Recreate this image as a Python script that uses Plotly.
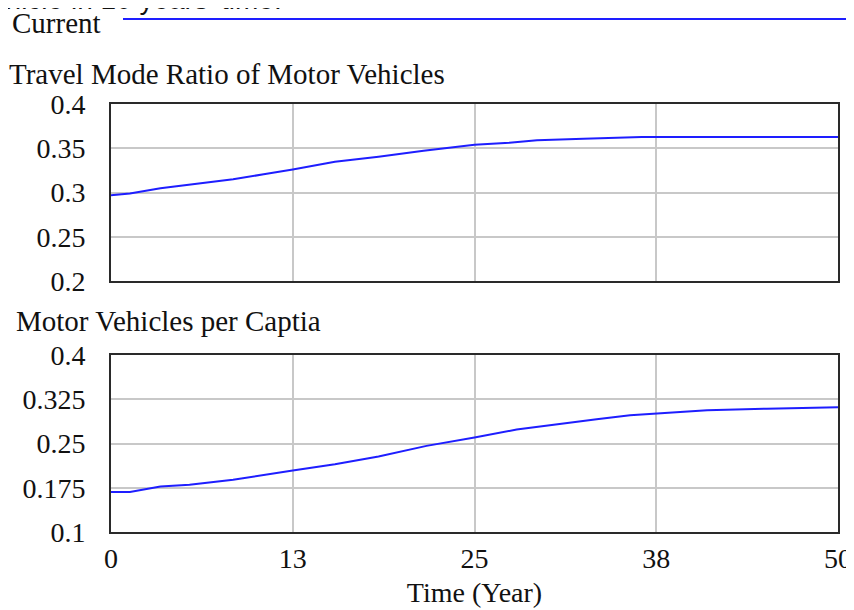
import plotly.graph_objects as go

# ---- data ----
time_mode = [0, 1.3, 3.4, 5.4, 8.4, 10.5, 12.5, 15.4, 18.4, 21.5, 25, 27.4, 29.3, 32.5, 36.5, 40, 45, 50]
mode_ratio = [0.297, 0.299, 0.3047, 0.3085, 0.3149, 0.3206, 0.326, 0.3348, 0.3405, 0.3473, 0.354,
              0.3563, 0.359, 0.3608, 0.3627, 0.3627, 0.3627, 0.3627]

time_cap = [0, 1.3, 3.4, 5.4, 8.4, 10.5, 12.5, 15.4, 18.4, 21.7, 25, 27.9, 30.4, 33.4, 35.7, 37.5, 41, 45.1, 48.5, 50]
per_capita = [0.168, 0.168, 0.177, 0.180, 0.1886, 0.197, 0.2043, 0.215, 0.228, 0.246, 0.260, 0.2737,
              0.282, 0.291, 0.298, 0.301, 0.3065, 0.309, 0.3115, 0.3115]

x_tickvals = [0, 12.5, 25, 37.5, 50]
x_ticktext = ["0", "13", "25", "38", "50"]
y1_tickvals = [0.2, 0.25, 0.3, 0.35, 0.4]
y1_ticktext = ["0.2", "0.25", "0.3", "0.35", "0.4"]
y2_tickvals = [0.1, 0.175, 0.25, 0.325, 0.4]
y2_ticktext = ["0.1", "0.175", "0.25", "0.325", "0.4"]

title1 = "Travel Mode Ratio of Motor Vehicles"
title2 = "Motor Vehicles per Captia"
x_title = "Time (Year)"
series_name = "Current"
clipped_text = "vehicle in 10 years' time."

# ---- figure (page body has an 8px margin, so the figure is sized to fit the window) ----
OFF = 8
W, H = 854 - OFF, 610 - OFF
SERIF = "Liberation Serif, Times New Roman, serif"
LINE = "#1e1eff"
GRID = "#c8c8c8"
FRAME = "#2a2a2a"
TXT = "#111"


def py(p):  # window pixel (from top) -> paper y
    return 1 - (p - OFF) / H


def px(p):  # window pixel (from left) -> paper x
    return (p - OFF) / W


fig = go.Figure()
fig.add_trace(go.Scatter(x=time_mode, y=mode_ratio, mode="lines", name=series_name,
                         line=dict(color=LINE, width=2), xaxis="x", yaxis="y", showlegend=False))
fig.add_trace(go.Scatter(x=time_cap, y=per_capita, mode="lines", name=series_name,
                         line=dict(color=LINE, width=2), xaxis="x2", yaxis="y2", showlegend=False))

xdom = [px(111), px(838)]
common_x = dict(range=[0, 50], tickvals=x_tickvals, ticktext=x_ticktext, showgrid=True,
                gridcolor=GRID, gridwidth=2, showline=True, mirror=True, linecolor=FRAME,
                linewidth=2, zeroline=False, domain=xdom, automargin=False, ticks="",
                tickfont=dict(family=SERIF, size=28, color=TXT))
common_y = dict(showgrid=True, gridcolor=GRID, gridwidth=2, showline=True, mirror=True,
                linecolor=FRAME, linewidth=2, zeroline=False, ticks="outside", ticklen=18,
                automargin=False, tickcolor="rgba(0,0,0,0)",
                tickfont=dict(family=SERIF, size=28, color=TXT))

fig.update_layout(
    width=W, height=H,
    margin=dict(l=0, r=0, t=0, b=0, autoexpand=False),
    paper_bgcolor="white", plot_bgcolor="white",
    xaxis=dict(common_x, anchor="y", showticklabels=False),
    xaxis2=dict(common_x, anchor="y2",
                title=dict(text=x_title, font=dict(family=SERIF, size=28, color=TXT), standoff=10)),
    yaxis=dict(common_y, range=[0.2, 0.4], tickvals=y1_tickvals, ticktext=y1_ticktext,
               domain=[py(281), py(104)], anchor="x"),
    yaxis2=dict(common_y, range=[0.1, 0.4], tickvals=y2_tickvals, ticktext=y2_ticktext,
                domain=[py(532), py(355)], anchor="x2"),
    showlegend=False,
)

fig.add_annotation(text=title1, xref="paper", yref="paper", x=px(7), y=py(74),
                   xanchor="left", yanchor="middle", showarrow=False,
                   font=dict(family=SERIF, size=29, color=TXT))
fig.add_annotation(text=title2, xref="paper", yref="paper", x=px(14), y=py(321),
                   xanchor="left", yanchor="middle", showarrow=False,
                   font=dict(family=SERIF, size=29, color=TXT))
fig.add_annotation(text=series_name, xref="paper", yref="paper", x=px(10), y=py(23),
                   xanchor="left", yanchor="middle", showarrow=False,
                   font=dict(family=SERIF, size=29, color=TXT))
fig.add_shape(type="line", xref="paper", yref="paper", x0=px(123), x1=1, y0=py(19), y1=py(19),
              line=dict(color=LINE, width=2))
fig.add_annotation(text=clipped_text, xref="paper", yref="paper", x=px(284), y=py(0),
                   xanchor="right", yanchor="middle", showarrow=False,
                   font=dict(family="Liberation Sans, Arial, sans-serif", size=28, color=TXT))

fig.write_html("out.html")
